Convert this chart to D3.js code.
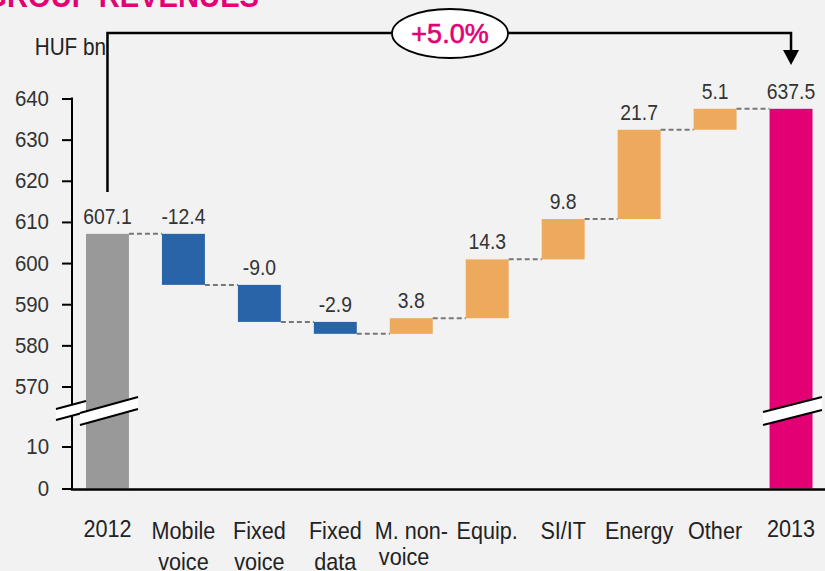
<!DOCTYPE html>
<html>
<head>
<meta charset="utf-8">
<script src="https://cdn.jsdelivr.net/npm/d3@7"></script>
<style>
  body { margin: 0; background: #f2f2f2; }
  svg { display: block; font-family: "Liberation Sans", Arial, sans-serif; }
</style>
</head>
<body>
<svg id="chart" width="825" height="571"></svg>
<script>
// ---- data ----
const categories = ["2012", "Mobile voice", "Fixed voice", "Fixed data", "M. non-voice",
                    "Equip.", "SI/IT", "Energy", "Other", "2013"];
const categoryLines = [["2012"], ["Mobile", "voice"], ["Fixed", "voice"], ["Fixed", "data"],
                       ["M. non-", "voice"], ["Equip."], ["SI/IT"], ["Energy"], ["Other"], ["2013"]];
const startValue = 607.1;
const deltas = [-12.4, -9.0, -2.9, 3.8, 14.3, 9.8, 21.7, 5.1];
const endValue = 637.5;
const upperTicks = [570, 580, 590, 600, 610, 620, 630, 640];
const lowerTicks = [0, 10];
const unitLabel = "HUF bn";
const growthLabel = "+5.0%";
const title = "GROUP REVENUES";

const magenta = "#e20074", blue = "#2963a8", orange = "#eeaa5c", grey = "#999999";
const narrow = 0.9; // the slide font is a condensed face, squeeze the text a bit

const svg = d3.select("#chart");

// broken y axis: two scales
const yUp = d3.scaleLinear().domain([570, 640]).range([386.5, 98.5]);
const yLow = d3.scaleLinear().domain([0, 10]).range([488.5, 446.5]);

const x = d3.scaleBand()
    .domain(categories)
    .range([69.5, 829])
    .paddingInner(0.4346)
    .paddingOuter(0.2173);
const bw = x.bandwidth();

// build waterfall steps
let bars = [];
bars.push({cat: categories[0], lo: 0, hi: startValue, end: startValue, type: "total", label: startValue.toFixed(1)});
let cum = startValue;
deltas.forEach((d, i) => {
  const next = cum + d;
  bars.push({cat: categories[i + 1], lo: Math.min(cum, next), hi: Math.max(cum, next), end: next,
             type: d < 0 ? "neg" : "pos", label: d.toFixed(1)});
  cum = next;
});
bars.push({cat: categories[categories.length - 1], lo: 0, hi: endValue, end: endValue, type: "end", label: endValue.toFixed(1)});

const colour = {total: grey, neg: blue, pos: orange, end: magenta};

// title (cut off at top like the slide)
svg.append("text")
    .attr("transform", "translate(259,7) scale(0.94,1)")
    .attr("text-anchor", "end")
    .attr("fill", magenta)
    .attr("font-size", 31)
    .attr("font-weight", "bold")
    .text(title);

// bars
svg.append("g").selectAll("rect")
  .data(bars)
  .join("rect")
    .attr("x", d => x(d.cat))
    .attr("width", bw)
    .attr("y", d => yUp(d.hi))
    .attr("height", d => (d.lo === 0 ? yLow(0) : yUp(d.lo)) - yUp(d.hi))
    .attr("fill", d => colour[d.type]);

// dashed connectors
svg.append("g").selectAll("line")
  .data(bars.slice(0, -1))
  .join("line")
    .attr("x1", d => x(d.cat) + bw)
    .attr("x2", (d, i) => x(bars[i + 1].cat))
    .attr("y1", d => yUp(d.end))
    .attr("y2", d => yUp(d.end))
    .attr("stroke", "#777")
    .attr("stroke-width", 2)
    .attr("stroke-dasharray", "5,3");

// value labels
svg.append("g").selectAll("text")
  .data(bars)
  .join("text")
    .attr("transform", d => `translate(${x(d.cat) + bw / 2},${yUp(d.hi) - 10}) scale(${narrow},1)`)
    .attr("text-anchor", "middle")
    .attr("font-size", 21.5)
    .attr("fill", "#333")
    .text(d => d.label);

// y axes
function styleAxis(g) {
  g.select(".domain").remove();
  g.selectAll(".tick line").attr("stroke", "#000").attr("stroke-width", 2);
  g.selectAll(".tick text")
    .attr("font-size", 22).attr("fill", "#333")
    .attr("font-family", "Liberation Sans, Arial, sans-serif")
    .attr("x", -23 / 0.93)
    .attr("transform", "scale(0.93,1)");
}
svg.append("g")
    .attr("transform", "translate(72,0)")
    .call(d3.axisLeft(yUp).tickValues(upperTicks).tickFormat(d3.format("d")).tickSize(10).tickPadding(13))
    .call(styleAxis);
svg.append("g")
    .attr("transform", "translate(72,0)")
    .call(d3.axisLeft(yLow).tickValues(lowerTicks).tickFormat(d3.format("d")).tickSize(10).tickPadding(13))
    .call(styleAxis);

svg.append("line")
    .attr("x1", 72).attr("x2", 72)
    .attr("y1", yUp(640) - 1).attr("y2", yLow(0) + 1)
    .attr("stroke", "#000").attr("stroke-width", 2);
svg.append("line")
    .attr("x1", 71).attr("x2", 825)
    .attr("y1", yLow(0) + 1).attr("y2", yLow(0) + 1)
    .attr("stroke", "#000").attr("stroke-width", 2.5);

// axis break bands
function breakBand(x0, x1, yTop0, yTop1, thick) {
  const g = svg.append("g");
  g.append("path")
    .attr("d", `M${x0},${yTop0}L${x1},${yTop1}L${x1},${yTop1 + thick}L${x0},${yTop0 + thick}Z`)
    .attr("fill", "#fff");
  [0, thick].forEach(o => g.append("line")
    .attr("x1", x0).attr("y1", yTop0 + o).attr("x2", x1).attr("y2", yTop1 + o)
    .attr("stroke", "#000").attr("stroke-width", 2));
}
breakBand(56, 86, 409, 401, 11);
breakBand(80, 138, 413, 397, 12);
breakBand(763, 822, 412, 397, 13);

// category labels
const catText = svg.append("g").selectAll("text")
  .data(categoryLines)
  .join("text")
    .attr("text-anchor", "middle")
    .attr("font-size", 24)
    .attr("fill", "#222")
    .attr("transform", (d, i) => `translate(${x(categories[i]) + bw / 2},${/^\d+$/.test(d[0]) ? 536.5 : 539}) scale(${narrow},1)`);
catText.selectAll("tspan")
  .data(d => d)
  .join("tspan")
    .attr("x", (d, i, n) => d === "voice" && n[0].parentNode.__data__[0] === "M. non-" ? -8 : 0)
    .attr("dy", (d, i, n) => i === 0 ? 0 : (n[0].parentNode.__data__[0] === "M. non-" ? 26 : 31))
    .text(d => d);

// unit label
svg.append("text")
    .attr("transform", `translate(106,55) scale(${narrow},1)`)
    .attr("text-anchor", "end")
    .attr("font-size", 23)
    .attr("fill", "#222")
    .text(unitLabel);

// growth bracket
const xa = x(categories[0]) + bw / 2, xb = x(categories[categories.length - 1]) + bw / 2;
const yTop = 33;
svg.append("path")
    .attr("d", `M${xa},192V${yTop}H${xb}V52`)
    .attr("fill", "none")
    .attr("stroke", "#000")
    .attr("stroke-width", 2.5);
svg.append("path")
    .attr("d", `M${xb - 8},50L${xb + 8},50L${xb},65Z`)
    .attr("fill", "#000");
svg.append("ellipse")
    .attr("cx", 450).attr("cy", yTop + 0.5)
    .attr("rx", 58).attr("ry", 24.5)
    .attr("fill", "#fff")
    .attr("stroke", "#000")
    .attr("stroke-width", 1.8);
svg.append("text")
    .attr("x", 450).attr("y", yTop + 10)
    .attr("text-anchor", "middle")
    .attr("font-size", 27)
    .attr("fill", magenta)
    .attr("stroke", magenta)
    .attr("stroke-width", 0.6)
    .text(growthLabel);
</script>
</body>
</html>
